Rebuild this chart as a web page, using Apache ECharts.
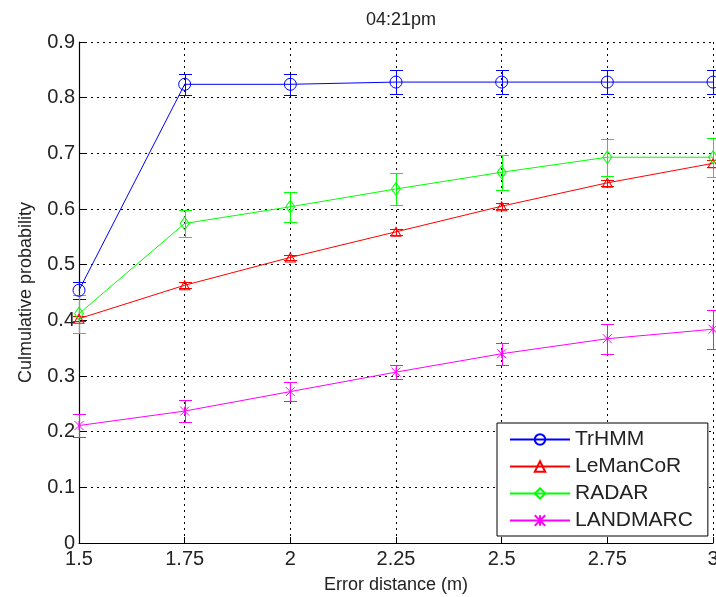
<!DOCTYPE html>
<html><head><meta charset="utf-8">
<script src="https://cdn.jsdelivr.net/npm/echarts@6/dist/echarts.min.js"></script>
<style>html,body{margin:0;padding:0;background:#fff}#c{width:716px;height:597px}</style>
</head><body><div id="c"></div>
<script>
const xs = [1.5, 1.75, 2, 2.25, 2.5, 2.75, 3];
const trhmm = [0.454, 0.824, 0.824, 0.828, 0.828, 0.828, 0.828];
const trhmmErr = [0.015, 0.019, 0.019, 0.021, 0.021, 0.021, 0.021];
const leman = [0.403, 0.463, 0.513, 0.559, 0.605, 0.647, 0.682];
const lemanErr = [0.005, 0.005, 0.005, 0.005, 0.005, 0.005, 0.006];
const radar = [0.412, 0.574, 0.604, 0.636, 0.666, 0.693, 0.693];
const radarErr = [0.034, 0.024, 0.027, 0.029, 0.031, 0.033, 0.035];
const landmarc = [0.211, 0.237, 0.272, 0.307, 0.340, 0.367, 0.384];
const landmarcErr = [0.020, 0.019, 0.017, 0.012, 0.020, 0.027, 0.035];
const names = ['TrHMM', 'LeManCoR', 'RADAR', 'LANDMARC'];
const colors = ['#0000ff', '#ff0000', '#00ff00', '#ff00ff'];
const yTicks = [0, 0.1, 0.2, 0.3, 0.4, 0.5, 0.6, 0.7, 0.8, 0.9];

const FONT = 'Liberation Sans';
const vals = [trhmm, leman, radar, landmarc];
const errs = [trhmmErr, lemanErr, radarErr, landmarcErr];
const symbols = ['circle', 'triangle', 'diamond', 'path://M0,0L10,10M10,0L0,10M5,0L5,10'];
const symSizes = [12, [10, 9], [9, 13], 9];

const series = [];
vals.forEach((v, k) => {
  series.push({
    name: names[k], type: 'line',
    data: xs.map((x, i) => [x, v[i]]),
    symbol: symbols[k], symbolSize: symSizes[k],
    lineStyle: { color: colors[k], width: 1 },
    itemStyle: { color: 'rgba(0,0,0,0)', borderColor: colors[k], borderWidth: 1 },
    emphasis: { disabled: true },
    z: 3
  });
  series.push({
    name: names[k] + '_err', type: 'custom',
    data: xs.map((x, i) => [x, v[i] - errs[k][i], v[i] + errs[k][i]]),
    encode: { x: 0, y: [1, 2] },
    z: 3,
    renderItem: (params, api) => {
      const x = api.value(0);
      const lo = api.coord([x, api.value(1)]);
      const hi = api.coord([x, api.value(2)]);
      const cx = Math.round(lo[0]) + 0.5;
      const yl = Math.round(lo[1]) + 0.5, yh = Math.round(hi[1]) + 0.5;
      const w = 6.5;
      const st = { stroke: colors[k], lineWidth: 1 };
      return { type: 'group', children: [
        { type: 'line', shape: { x1: cx, y1: yl, x2: cx, y2: yh }, style: st },
        { type: 'line', shape: { x1: cx - w, y1: yl, x2: cx + w, y2: yl }, style: st },
        { type: 'line', shape: { x1: cx - w, y1: yh, x2: cx + w, y2: yh }, style: st }
      ]};
    }
  });
});

const chart = echarts.init(document.getElementById('c'), null, { renderer: 'canvas' });
chart.setOption({
  animation: false,
  backgroundColor: '#fff',
  textStyle: { fontFamily: FONT },
  title: {
    text: '04:21pm', left: 396, top: 6, textAlign: 'center',
    textStyle: { fontFamily: FONT, fontSize: 18, fontWeight: 'normal', color: '#222' }
  },
  grid: { left: 79, right: 3, top: 42, bottom: 54, show: false, containLabel: false, outerBoundsMode: 'none' },
  xAxis: {
    type: 'value', min: 1.5, max: 3, interval: 0.25,
    name: 'Error distance (m)', nameLocation: 'middle', nameGap: 33,
    nameTextStyle: { fontFamily: FONT, fontSize: 18, color: '#222' },
    axisLine: { lineStyle: { color: '#000', width: 1.2 } },
    axisTick: { inside: true, length: 6, lineStyle: { color: '#000' } },
    axisLabel: { fontFamily: FONT, fontSize: 20, color: '#222', margin: 6, hideOverlap: false },
    splitLine: { show: true, lineStyle: { color: '#000', type: [2, 4], width: 1 } }
  },
  yAxis: {
    type: 'value', min: yTicks[0], max: yTicks[yTicks.length - 1], interval: 0.1,
    name: 'Culmulative probability', nameLocation: 'middle', nameGap: 44,
    nameTextStyle: { fontFamily: FONT, fontSize: 18, color: '#222' },
    axisLine: { show: true, lineStyle: { color: '#000', width: 1.2 } },
    axisTick: { show: true, inside: true, length: 6, lineStyle: { color: '#000' } },
    axisLabel: { fontFamily: FONT, fontSize: 20, color: '#222', margin: 4 },
    splitLine: { show: true, lineStyle: { color: '#000', type: [2, 4], width: 1 } }
  },
  legend: {
    data: names, orient: 'vertical', left: 497, top: 423,
    padding: [6, 15, 5, 12], itemGap: 6, itemWidth: 60, itemHeight: 13,
    backgroundColor: '#fff', borderColor: '#000', borderWidth: 1,
    textStyle: { fontFamily: FONT, fontSize: 21, color: '#222', lineHeight: 20 },
    itemStyle: { color: 'rgba(0,0,0,0)' }
  },
  series: series
});
</script></body></html>
